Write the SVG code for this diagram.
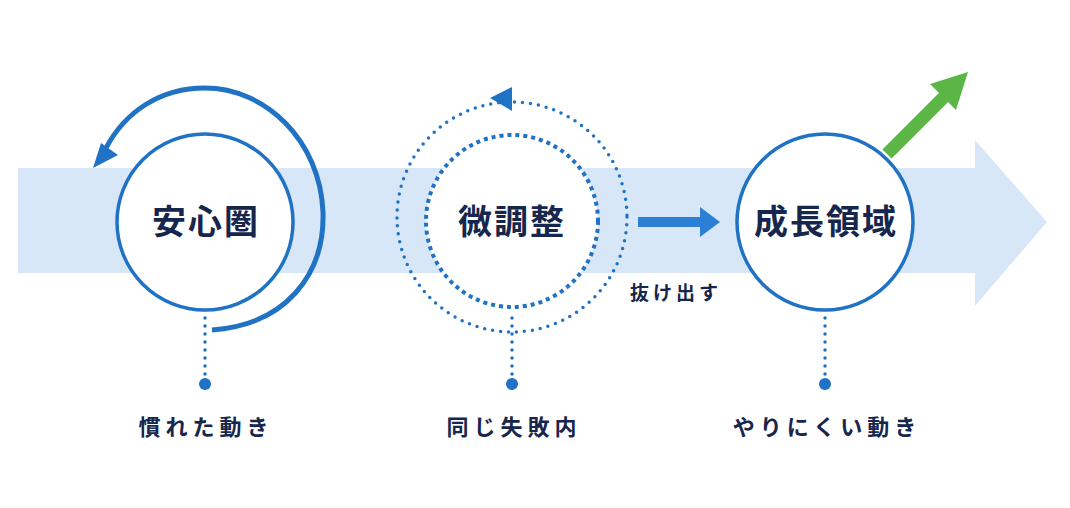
<svg xmlns="http://www.w3.org/2000/svg" width="1070" height="508" viewBox="0 0 1070 508">
<style>
.t{font-family:"Noto Sans CJK JP","Noto Sans",sans-serif;font-weight:700;fill:#16264c;text-anchor:middle}
.big{font-size:34px;letter-spacing:2px}
.lab{font-size:22px;letter-spacing:5px}
.ring{fill:#fff;stroke:#1f72c4;stroke-width:3.5}
.dots{fill:none;stroke:#1f72c4;stroke-width:3.5;stroke-linecap:round;stroke-dasharray:0 8}
.b{fill:#1f72c4}
</style>
<rect width="1070" height="508" fill="#fff"/>
<path d="M18,168 H975 V140 L1047,222 L975,306 V273 H18 Z" fill="#d8e7f8"/>
<g id="connectors">
<path d="M212,330 C285,325 325,275 323,212 C320,140 265,88 205,88 C160,88 125,112 106,148" fill="none" stroke="#1f72c4" stroke-width="5"/>
<polygon class="b" points="93,168 101,143 118,155"/>
<circle cx="512" cy="217" r="115" class="dots" stroke-width="5" stroke-dasharray="0 11"/>
<polygon class="b" points="490,98 512,87 512,111"/>
<path d="M638,222 H702" stroke="#2b7fd4" stroke-width="10"/>
<polygon points="700,207 720,222 700,237" fill="#2b7fd4"/>
<path d="M887,154 L952,89" stroke="#5bb646" stroke-width="13"/>
<polygon points="968,72 930,84 956,110" fill="#5bb646"/>
<path d="M205,318 V376 M512,318 V376 M825,318 V376" class="dots"/>
<circle cx="205" cy="384" r="6" class="b"/>
<circle cx="512" cy="384" r="6" class="b"/>
<circle cx="825" cy="384" r="6" class="b"/>
</g>
<g id="n1">
<circle cx="205" cy="222" r="88" class="ring"/>
<text x="206" y="234" class="t big">安心圏</text>
<text x="206" y="435" class="t lab">慣れた動き</text>
</g>
<g id="n2">
<circle cx="512" cy="221" r="86" fill="#fff" stroke="#1f72c4" stroke-width="4" stroke-dasharray="4 4"/>
<text x="512" y="234" class="t big">微調整</text>
<text x="514" y="435" class="t lab">同じ失敗内</text>
</g>
<g id="n3">
<circle cx="825" cy="222" r="88" class="ring"/>
<text x="826" y="234" class="t big">成長領域</text>
<text x="827" y="435" class="t lab">やりにくい動き</text>
</g>
<text x="676" y="300" class="t" font-size="19" letter-spacing="4">抜け出す</text>
</svg>
